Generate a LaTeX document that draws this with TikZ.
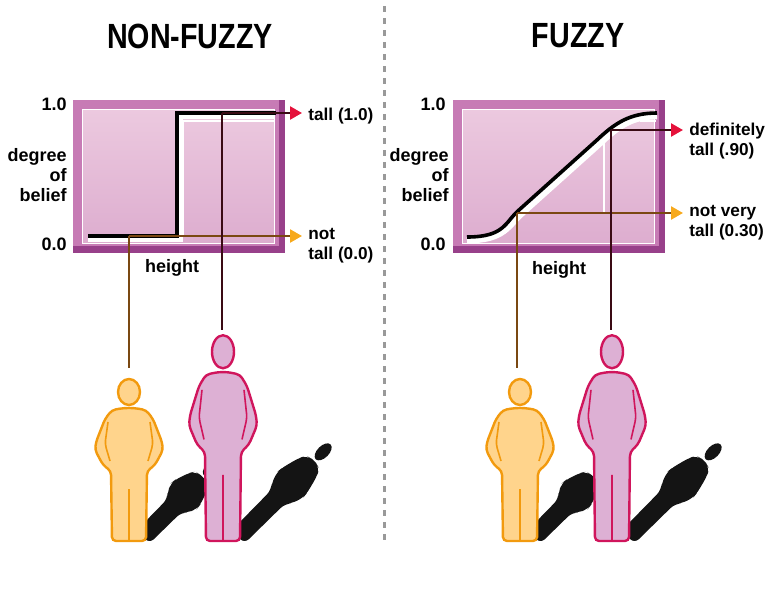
\documentclass[tikz,border=0pt]{standalone}
\usepackage{fontspec}
\setmainfont{Liberation Sans}
\usepackage{tikz}
\usetikzlibrary{arrows.meta,positioning,calc}
\definecolor{boxrim}{HTML}{C77BB5}
\definecolor{boxdark}{HTML}{98408A}
\definecolor{boxpanel}{HTML}{ECC9DF}
\definecolor{boxpanellow}{HTML}{DDADCF}
\definecolor{shortfill}{HTML}{FFD48C}
\definecolor{shortedge}{HTML}{F29A0E}
\definecolor{tallfill}{HTML}{DDB0D4}
\definecolor{talledge}{HTML}{D0155C}
\definecolor{shortwire}{HTML}{7A4812}
\definecolor{tallwire}{HTML}{3A0A14}
\definecolor{shorttipc}{HTML}{F7A91C}
\definecolor{talltipc}{HTML}{E5123B}

% outline of a standing man, feet at the origin, pixels, y pointing down
\newcommand{\manshape}{%
  (-5,-133) -- (-17,-131) -- (-24,-122) -- (-33,-99) -- (-34,-91) -- (-26,-76)
  -- (-18,-70) -- (-17,0) -- (17,0)
  -- (18,-70) -- (26,-76) -- (34,-91) -- (33,-99) -- (24,-122) -- (17,-131)
  -- (5,-133) -- cycle
  (0,-149) ellipse [x radius=11, y radius=13]}
% arms and the split between the legs
\newcommand{\manarms}{%
  (-21,-119) -- (-24,-97) -- (-19,-80) (21,-119) -- (24,-97) -- (19,-80)
  (0,0) -- (0,-52)}

\begin{document}
\begin{tikzpicture}[x=0.5pt,y=-0.5pt,
  title/.style={font=\bfseries\fontsize{17.5}{20}\selectfont},
  axislabel/.style={font=\bfseries\fontsize{9}{10}\selectfont, inner sep=0pt},
  outlabel/.style={font=\bfseries\fontsize{8.6}{10}\selectfont, inner sep=0pt, align=left, anchor=west},
  rim/.style={draw=none, fill=boxrim, minimum width=106pt, minimum height=76.5pt, inner sep=0pt},
  panel/.style={draw=white, line width=0.6pt, top color=boxpanel, bottom color=boxpanellow,
    minimum width=96pt, minimum height=67pt, inner sep=0pt},
  curve/.style={line width=1.8pt, black},
  curveback/.style={line width=3.4pt, white},
  shortline/.style={line width=1.2pt, shortwire},
  tallline/.style={line width=1.2pt, tallwire},
  shortarrow/.style={shortline, -{Triangle[length=6pt,width=6.5pt,color=shorttipc]}},
  tallarrow/.style={tallline, -{Triangle[length=6pt,width=6.5pt,color=talltipc]}},
  shortman/.style={draw=shortedge, fill=shortfill, line width=1.2pt, rounded corners=2pt},
  tallman/.style={draw=talledge, fill=tallfill, line width=1.2pt, rounded corners=2pt},
  shortarm/.style={draw=shortedge, line width=0.8pt, rounded corners=2pt},
  tallarm/.style={draw=talledge, line width=0.8pt, rounded corners=2pt},
  shadow/.style={fill=black!92, rounded corners=3pt}]
\useasboundingbox (0,0) rectangle (768,594);

% divider
\draw[gray!80, line width=1.5pt, dash pattern=on 3pt off 3pt] (384,6) -- (384,540);

% headings
\node[title] (nftitle) at (190,36) {\scalebox{0.82}[1]{NON-FUZZY}};
\node[title] (ftitle) at (578,36) {\scalebox{0.82}[1]{FUZZY}};

%---------------- crisp chart
\node[rim] (nfbox) at (179,176.5) {};
\fill[boxdark] (nfbox.south west) rectangle ($(nfbox.south east)+(0,-7)$);
\fill[boxdark] (nfbox.north east) rectangle ($(nfbox.south east)+(-6,0)$);
\node[panel] (nfpanel) at (178.5,176.5) {};
\draw[white, line width=0.6pt] (183,121) -- (183,236) (183,121) -- (275,121);

\node[axislabel, anchor=east] (nfone) at (67,104) {1.0};
\node[axislabel, anchor=east] (nfzero) at (67,244) {0.0};
\node[axislabel, anchor=east, align=right] (nfdeg) at (67,175) {degree\\of\\belief};
\node[axislabel] (nfheight) at (172,268) {height};

\draw[curveback] (88,239) -- (180,239) -- (180,116) -- (275,116);
\draw[curve] (88,236) -- (177,236) -- (177,113) -- (276,113);

\coordinate (nfshortpt) at (129,236);
\coordinate (nfshorthead) at (129,368);
\coordinate (nfshorttip) at (302,236);
\coordinate (nftallpt) at (222,113);
\coordinate (nftallhead) at (222,330);
\coordinate (nftalltip) at (302,113);
\draw[shortline] (nfshortpt) -- (nfshorthead);
\draw[shortarrow] (nfshortpt) -- (nfshorttip);
\draw[tallline] (nftallpt) -- (nftallhead);
\draw[tallarrow] (nftallpt) -- (nftalltip);
\node[outlabel] (nftalltext) at (308,116) {tall (1.0)};
\node[outlabel, anchor=north west] (nfshorttext) at (308,228) {not\\tall (0.0)};

%---------------- fuzzy chart
\node[rim] (fbox) at (559,176.5) {};
\fill[boxdark] (fbox.south west) rectangle ($(fbox.south east)+(0,-7)$);
\fill[boxdark] (fbox.north east) rectangle ($(fbox.south east)+(-6,0)$);
\node[panel] (fpanel) at (558.5,176.5) {};
\draw[white, line width=0.6pt] (604,136) -- (604,212) (640,121) -- (656,121);

\node[axislabel, anchor=east] (fone) at (446,104) {1.0};
\node[axislabel, anchor=east] (fzero) at (446,244) {0.0};
\node[axislabel, anchor=east, align=right] (fdeg) at (449,175) {degree\\of\\belief};
\node[axislabel] (fheight) at (559,270) {height};

\draw[curveback] (467,240) .. controls (505,240) and (508,225) .. (522,213)
  -- (600,143) .. controls (618,126) and (632,116) .. (657,116);
\draw[curve] (467,237) .. controls (505,237) and (505,222) .. (519,210)
  -- (597,140) .. controls (615,123) and (630,113) .. (657,113);

\coordinate (fshortpt) at (517,213);
\coordinate (fshorthead) at (517,368);
\coordinate (fshorttip) at (683,213);
\coordinate (ftallpt) at (611,130);
\coordinate (ftallhead) at (611,330);
\coordinate (ftalltip) at (683,130);
\draw[shortline] (fshortpt) -- (fshorthead);
\draw[shortarrow] (fshortpt) -- (fshorttip);
\draw[tallline] (ftallpt) -- (ftallhead);
\draw[tallarrow] (ftallpt) -- (ftalltip);
\node[outlabel] (ftalltext) at (689,141) {definitely\\tall (.90)};
\node[outlabel] (fshorttext) at (689,223) {not very\\tall (0.30)};

%---------------- shadows
\foreach \fx/\sc in {143/1, 238/1.27, 534/1, 628/1.27} {
  \begin{scope}[shift={(\fx,537)}, cm={0.38,-0.38,0.45,0.45,(0,0)}, yscale=\sc]
    \fill[shadow] \manshape;
  \end{scope}
}

%---------------- people
\foreach \mx in {129, 520} {
  \begin{scope}[shift={(\mx,541)}]
    \path[shortman] \manshape;
    \draw[shortarm] \manarms;
  \end{scope}
}
\foreach \mx in {223, 612} {
  \begin{scope}[shift={(\mx,541)}, yscale=1.27]
    \path[tallman] \manshape;
    \draw[tallarm] \manarms;
  \end{scope}
}
\end{tikzpicture}
\end{document}
